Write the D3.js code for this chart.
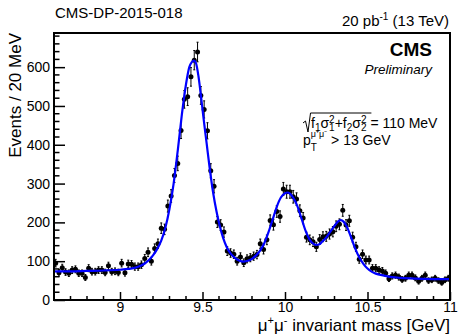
<!DOCTYPE html>
<html><head><meta charset="utf-8">
<script src="https://cdn.jsdelivr.net/npm/d3@7"></script>
<style>body{margin:0;background:#fff}svg{display:block;font-family:"Liberation Sans",Arial,Helvetica,sans-serif}</style>
</head><body><svg id="c" width="459" height="336"></svg>
<script>
// Histogram binning (20 MeV bins from 8.6 GeV)
const binLow = 8.6, binWidth = 0.02;
const counts = [95,70,83,72,69,77,79,69,69,58,82,73,73,77,77,71,88,73,74,71,
  95,70,93,92,86,86,91,107,123,100,133,145,185,182,242,268,321,352,437,517,
  524,575,618,639,527,491,436,333,293,201,193,175,126,121,118,100,111,96,106,109,
  113,117,145,130,155,205,194,228,215,286,279,279,266,260,230,211,162,155,150,137,
  156,163,164,170,176,190,195,231,193,204,162,137,105,118,103,103,82,82,77,75,
  69,55,62,64,59,53,56,64,64,57,48,56,64,50,52,56,50,45,52,56];
// Fit curve
const fitMass = [8.60,8.70,8.80,8.90,9.00,9.05,9.10,9.125,9.15,9.175,9.20,9.225,9.25,9.275,9.30,9.325,9.35,9.375,9.40,9.42,9.435,9.448,9.46,9.475,9.49,9.505,9.525,9.545,9.565,9.585,9.605,9.625,9.645,9.67,9.70,9.725,9.75,9.775,9.80,9.825,9.85,9.875,9.90,9.925,9.95,9.975,10.00,10.015,10.03,10.05,10.075,10.10,10.125,10.15,10.175,10.19,10.205,10.225,10.25,10.275,10.30,10.32,10.338,10.355,10.375,10.40,10.425,10.45,10.475,10.50,10.525,10.55,10.60,10.65,10.70,10.80,10.90,11.00];
const fitEvents = [74,74,75,76,78,80,84,88,94,103,115,131,153,186,235,300,385,478,556,600,613,617,611,578,528,473,404,335,275,228,190,160,138,120,107,101,99,101,106,115,128,147,175,207,240,264,275,277,274,263,242,210,178,155,144,142,143,150,161,176,191,202,206,202,189,162,133,110,93,81,73,68,63,59,57,55,54,54];
const xTicks = [9, 9.5, 10, 10.5, 11];
const yTicks = [0, 100, 200, 300, 400, 500, 600];

const svg = d3.select('#c');
const L = 54, R = 450, T = 33, B = 300;
const x = d3.scaleLinear().domain([8.6, 11]).range([L, R]);
const y = d3.scaleLinear().domain([0, 688]).range([B, T]);

const bins = counts.map((c, i) => ({m: binLow + (i + 0.5) * binWidth, n: c, e: Math.sqrt(c)}));

// minor ticks
const gMin = svg.append('g').attr('stroke', '#000').attr('stroke-width', 1.5);
d3.range(0, 689, 20).forEach(v => { if (v % 100) gMin.append('line').attr('x1', L).attr('x2', L + 5.5).attr('y1', y(v)).attr('y2', y(v)); });
d3.range(0, 25).map(i => 8.6 + i * 0.1).forEach(v => { const r = Math.round(v * 10) % 5; if (r) gMin.append('line').attr('x1', x(v)).attr('x2', x(v)).attr('y1', B).attr('y2', B - 4); });

const ya = svg.append('g').attr('transform', `translate(${L},0)`)
  .call(d3.axisLeft(y).tickValues(yTicks).tickSize(-11).tickPadding(4).tickFormat(d3.format('d')));
const xa = svg.append('g').attr('transform', `translate(0,${B})`)
  .call(d3.axisBottom(x).tickValues(xTicks).tickSize(-8).tickPadding(2).tickFormat(d => d3.format('')(d)));
[ya, xa].forEach(a => {
  a.select('.domain').remove();
  a.selectAll('line').attr('stroke', '#000').attr('stroke-width', 1.5);
  a.selectAll('text').attr('font-size', 14).attr('fill', '#000').attr('font-family', '"Liberation Sans",Arial,sans-serif');
});

// data points
const gp = svg.append('g');
bins.forEach(b => {
  const cx = x(b.m);
  gp.append('line').attr('x1', cx).attr('x2', cx).attr('y1', y(b.n - b.e)).attr('y2', y(b.n + b.e)).attr('stroke', '#000').attr('stroke-width', 1);
  [b.n - b.e, b.n + b.e].forEach(v => gp.append('line').attr('x1', cx - 1).attr('x2', cx + 1).attr('y1', y(v)).attr('y2', y(v)).attr('stroke', '#000').attr('stroke-width', 1));
  gp.append('circle').attr('cx', cx).attr('cy', y(b.n)).attr('r', 2.5).attr('fill', '#000');
});

// fit curve
const fit = fitMass.map((m, i) => [m, fitEvents[i]]);
svg.append('path').datum(fit)
  .attr('d', d3.line().x(d => x(d[0])).y(d => y(d[1])).curve(d3.curveMonotoneX))
  .attr('fill', 'none').attr('stroke', '#0000ff').attr('stroke-width', 2.2);

// frame
svg.append('rect').attr('x', L).attr('y', T).attr('width', R - L).attr('height', B - T)
  .attr('fill', 'none').attr('stroke', '#000').attr('stroke-width', 2);

// texts
svg.append('text').attr('x', 55).attr('y', 18).attr('font-size', 15).text('CMS-DP-2015-018');
const lumi = svg.append('text').attr('x', 449).attr('y', 26).attr('font-size', 15).attr('text-anchor', 'end');
lumi.append('tspan').text('20 pb');
lumi.append('tspan').attr('font-size', 10).attr('dy', -6).text('-1');
lumi.append('tspan').attr('dy', 6).text(' (13 TeV)');
svg.append('text').attr('x', 432).attr('y', 56).attr('font-size', 19).attr('font-weight', 'bold').attr('text-anchor', 'end').text('CMS');
svg.append('text').attr('x', 432).attr('y', 74).attr('font-size', 13.5).attr('font-style', 'italic').attr('text-anchor', 'end').text('Preliminary');

svg.append('text').attr('transform', `translate(20.5,${T}) rotate(-90)`).attr('text-anchor', 'end').attr('font-size', 17).text('Events / 20 MeV');
const xt = svg.append('text').attr('x', 450).attr('y', 331).attr('font-size', 17).attr('text-anchor', 'end');
xt.append('tspan').text('μ');
xt.append('tspan').attr('font-size', 11).attr('dy', -7).text('+');
xt.append('tspan').attr('dy', 7).text('μ');
xt.append('tspan').attr('font-size', 11).attr('dy', -7).text('-');
xt.append('tspan').attr('dy', 7).text(' invariant mass [GeV]');

// one <text> per line, pieces as absolutely positioned tspans
function seq(g, x0, y0, parts) {
  const t = g.append('text').attr('x', x0).attr('y', y0).attr('font-size', 14);
  let cx = x0;
  parts.forEach(p => {
    const items = p.stack || [p];
    let w = 0;
    items.forEach(s => {
      const el = t.append('tspan').attr('x', cx).attr('y', y0 + (s.dy || 0)).attr('font-size', s.size || 14).text(s.t);
      w = Math.max(w, el.node().getComputedTextLength());
    });
    cx += w;
  });
  return cx;
}
const ga = svg.append('g');
const y1 = 128;
const end1 = seq(ga, 311, y1, [
  {t: 'f'}, {t: '1', size: 10, dy: 3}, {t: 'σ'}, {stack: [{t: '2', size: 10, dy: -5}, {t: '1', size: 10, dy: 3}]},
  {t: '+f'}, {t: '2', size: 10, dy: 3}, {t: 'σ'}, {stack: [{t: '2', size: 10, dy: -5}, {t: '2', size: 10, dy: 3}]},
  {t: ' = 110 MeV'}
]);
const endRad = end1 - 0; // overline width computed below
ga.append('path').attr('id', 'rad').attr('fill', 'none').attr('stroke', '#000').attr('stroke-width', 1);
// measure content width (without the " = 110 MeV" part)
const tmp = ga.append('text').attr('font-size', 14).attr('x', -100).attr('y', -100).text(' = 110 MeV');
const eqW = tmp.node().getComputedTextLength(); tmp.remove();
ga.select('#rad').attr('d', `M303,123 L305.5,121 L308,132 L310.5,113 L${end1 - eqW + 1},113`);
seq(ga, 303, 145, [
  {t: 'p'}, {stack: [{t: 'μ⁺μ⁻', size: 9, dy: -8}, {t: 'T', size: 10, dy: 6}]}, {t: ' > 13 GeV'}
]);
</script></body></html>
